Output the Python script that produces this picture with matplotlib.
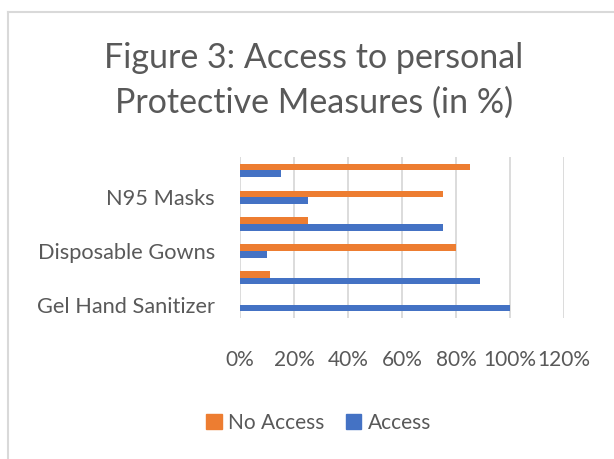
import matplotlib
matplotlib.use("Agg")
import matplotlib.pyplot as plt
from matplotlib.patches import Patch
from matplotlib.lines import Line2D
import numpy as np

# Categories from bottom to top; only every other label is shown on the axis
categories = ["Gel Hand Sanitizer", "", "Disposable Gowns", "", "N95 Masks", ""]
access = [100, 89, 10, 75, 25, 15]
no_access = [0, 11, 80, 25, 75, 85]
x_ticks = [0, 20, 40, 60, 80, 100, 120]
x_tick_labels = ["0%", "20%", "40%", "60%", "80%", "100%", "120%"]

BLUE = "#4472C4"
ORANGE = "#ED7D31"
TEXT = "#595959"
GRID = "#D9D9D9"

plt.rcParams["font.family"] = ["Lato", "DejaVu Sans"]

W, H = 614, 459
fig = plt.figure(figsize=(W / 100, H / 100), dpi=100)
fig.patch.set_facecolor("white")

# Chart frame (top and left edges)
fig.add_artist(Line2D([8 / W, 1], [1 - 12 / H, 1 - 12 / H], color=GRID, lw=1.5,
                      transform=fig.transFigure))
fig.add_artist(Line2D([8 / W, 8 / W], [0, 1 - 12 / H], color=GRID, lw=1.5,
                      transform=fig.transFigure))

left, right, top, bottom = 240, 564, 157, 318
ax = fig.add_axes([left / W, 1 - bottom / H, (right - left) / W, (bottom - top) / H])

y = np.arange(len(categories))
h = 0.25
ax.barh(y - h / 2, access, height=h, color=BLUE, zorder=3)
ax.barh(y + h / 2, no_access, height=h, color=ORANGE, zorder=3)

ax.set_xlim(0, 120)
ax.set_ylim(-0.5, len(categories) - 0.5)
ax.set_xticks(x_ticks)
ax.set_xticklabels(x_tick_labels, fontsize=15, color=TEXT)
ax.set_yticks(y)
ax.set_yticklabels(categories, fontsize=15.7, color=TEXT)
ax.tick_params(axis="both", length=0)
ax.tick_params(axis="x", pad=23)
ax.tick_params(axis="y", pad=18)
ax.grid(axis="x", color=GRID, lw=1.3, zorder=0)
for s in ax.spines.values():
    s.set_visible(False)

fig.text(0.511, 1 - 68 / H, "Figure 3: Access to personal", ha="center", va="baseline",
         fontsize=24.5, color=TEXT)
fig.text(0.511, 1 - 113 / H, "Protective Measures (in %)", ha="center", va="baseline",
         fontsize=24.5, color=TEXT)

handles = [Patch(color=ORANGE, label="No Access"), Patch(color=BLUE, label="Access")]
fig.legend(handles=handles, loc="center", bbox_to_anchor=(0.519, 1 - 423 / H), ncol=2,
           frameon=False, fontsize=15, labelcolor=TEXT, handlelength=0.75,
           handleheight=0.75, handletextpad=0.3, columnspacing=1.0)

fig.savefig("out.png", dpi=100)
